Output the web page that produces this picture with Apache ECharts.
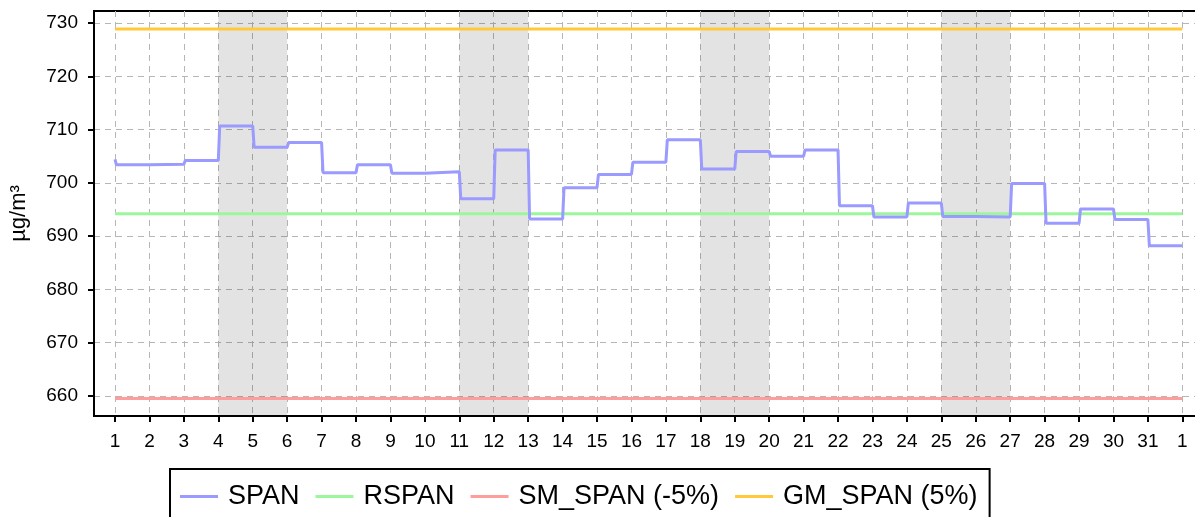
<!DOCTYPE html>
<html>
<head>
<meta charset="utf-8">
<title>SPAN</title>
<script src="https://cdn.jsdelivr.net/npm/echarts@6/dist/echarts.min.js"></script>
<style>
  html, body { margin: 0; padding: 0; background: #fff; }
  #chart { width: 1195px; height: 517px; }
</style>
</head>
<body>
<div id="chart"></div>
<script>
// x tick labels: days of the month, then day 1 of the next month
const dayLabels = ['1', '2', '3', '4', '5', '6', '7', '8', '9', '10', '11', '12', '13', '14', '15', '16',
  '17', '18', '19', '20', '21', '22', '23', '24', '25', '26', '27', '28', '29', '30', '31', '1'];
// daily SPAN values (µg/m³)
const spanValues = [703.4, 703.5, 704.2, 710.7, 706.7, 707.6, 701.9, 703.4, 701.8, 702.1, 697.0,
  706.2, 693.2, 699.1, 701.6, 703.9, 708.1, 702.6, 705.9, 705.0, 706.2, 695.7, 693.6, 696.2,
  693.7, 693.6, 699.9, 692.4, 695.1, 693.1, 688.2];
// value still held in the first hour of day 1
const spanStart = [704.4];
const seriesNames = ['SPAN', 'RSPAN', 'SM_SPAN (-5%)', 'GM_SPAN (5%)'];
// RSPAN, SM_SPAN, GM_SPAN
const refValues = [694.2, 659.5, 728.9];
// shaded weekends, as tick index ranges
const weekendBands = [[3, 5], [10, 12], [17, 19], [24, 26]];
const yTicks = [660, 670, 680, 690, 700, 710, 720, 730];

const colors = ['#9a9aff', '#9cf79c', '#ff9c9c', '#ffc93a'];
const font = '"Liberation Sans", Arial, sans-serif';
const gridLine = { show: true, lineStyle: { color: '#b6b6b6', type: [6, 5], width: 1 } };

// hourly samples: the new value appears one hour after midnight
const hour = 1 / 24;
const spanData = [[0, spanStart[0]]];
spanValues.forEach((v, i) => {
  spanData.push([i + hour, v]);
  spanData.push([i + 1, v]);
});
const lastX = dayLabels.length - 1;
const xTicks = dayLabels.map((d, i) => i);

const myChart = echarts.init(document.getElementById('chart'));

let series = [{
  name: seriesNames[0],
  type: 'line',
  data: spanData,
  symbol: 'none',
  z: 4,
  lineStyle: { color: colors[0], width: 3 },
  itemStyle: { color: colors[0] },
  markArea: {
    silent: true,
    itemStyle: { color: 'rgba(0,0,0,0.11)' },
    data: weekendBands.map(b => [{ xAxis: b[0] }, { xAxis: b[1] }])
  }
}];
refValues.forEach((v, i) => {
  series.push({
    name: seriesNames[i + 1],
    type: 'line',
    data: [[0, v], [lastX, v]],
    symbol: 'none',
    z: 3,
    lineStyle: { color: colors[i + 1], width: 3 },
    itemStyle: { color: colors[i + 1] }
  });
});

let option = {
  animation: false,
  backgroundColor: '#fff',
  grid: {
    left: 94,
    top: 11,
    width: 1109,
    height: 405,
    outerBoundsMode: 'none',
    show: true,
    backgroundColor: '#fff',
    borderColor: '#000',
    borderWidth: 2
  },
  legend: {
    left: 170,
    top: 469,
    icon: 'rect',
    itemWidth: 38,
    itemHeight: 3,
    itemGap: 16,
    padding: [14, 12, 14, 10],
    borderColor: '#000',
    borderWidth: 2,
    data: seriesNames,
    textStyle: { fontSize: 27, color: '#000', fontFamily: font, padding: [0, 0, 0, 5] }
  },
  xAxis: {
    type: 'value',
    min: -0.61,
    max: 31.6,
    axisLine: { onZero: false, lineStyle: { color: '#000', width: 2 } },
    axisTick: { customValues: xTicks, length: 6, lineStyle: { color: '#000', width: 2 } },
    axisLabel: {
      customValues: xTicks,
      formatter: v => dayLabels[v],
      margin: 16,
      fontSize: 19,
      color: '#000',
      fontFamily: font
    },
    splitLine: gridLine
  },
  yAxis: {
    type: 'value',
    min: 656.2,
    max: 732.3,
    name: 'µg/m³',
    nameLocation: 'middle',
    nameGap: 64,
    nameTextStyle: { fontSize: 22, color: '#000', fontFamily: font },
    axisLine: { show: true, onZero: false, lineStyle: { color: '#000', width: 2 } },
    axisTick: { show: true, customValues: yTicks, length: 6, lineStyle: { color: '#000', width: 2 } },
    axisLabel: { customValues: yTicks, margin: 16, fontSize: 19, color: '#000', fontFamily: font },
    splitLine: gridLine
  },
  series: series
};
myChart.setOption(option);
</script>
</body>
</html>
